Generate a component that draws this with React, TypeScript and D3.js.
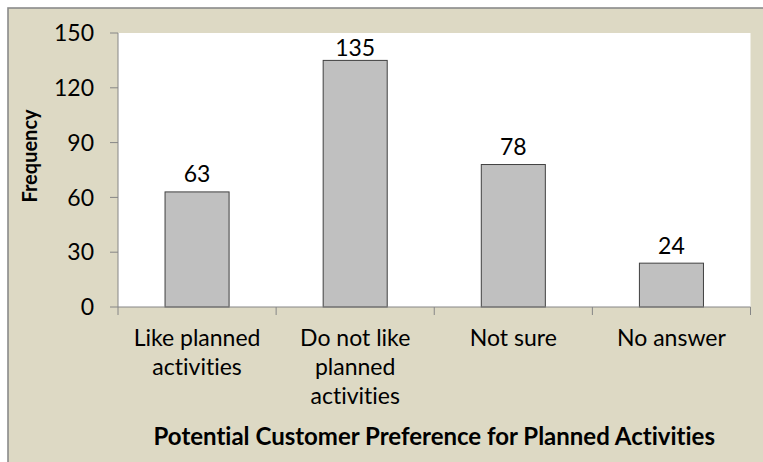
import React from "react";
import * as d3 from "d3";

const categories: string[][] = [
  ["Like planned", "activities"],
  ["Do not like", "planned", "activities"],
  ["Not sure"],
  ["No answer"],
];
const values: number[] = [63, 135, 78, 24];
const yTicks: number[] = [0, 30, 60, 90, 120, 150];
const yLabel = "Frequency";
const xLabel = "Potential Customer Preference for Planned Activities";

const W = 763;
const H = 462;
const FONT = "Lato, 'Open Sans', sans-serif";

export default function App() {
  const plot = { left: 118, right: 750.5, top: 33, bottom: 307 };
  const x = d3
    .scaleBand<number>()
    .domain(values.map((_, i) => i))
    .range([plot.left, plot.right])
    .paddingInner(0.595)
    .paddingOuter(0.2975);
  const y = d3.scaleLinear().domain([0, 150]).range([plot.bottom, plot.top]);
  const step = (plot.right - plot.left) / values.length;
  const axisColor = "#868686";

  return (
    <svg
      width={W}
      height={H}
      style={{ position: "fixed", top: 0, left: 0, fontVariantLigatures: "none", fontFeatureSettings: "'liga' 0, 'clig' 0" }}
      fontFamily={FONT}
    >
      <rect x={0} y={0} width={W} height={H} fill="#ffffff" />
      <rect x={8} y={8} width={W + 20} height={H + 20} fill="#DDD9C4" stroke="#8a8a8a" strokeWidth={1.6} />
      <rect x={plot.left} y={plot.top} width={plot.right - plot.left} height={plot.bottom - plot.top} fill="#ffffff" />

      {values.map((v, i) => (
        <rect
          key={i}
          x={x(i)!}
          y={y(v)}
          width={x.bandwidth()}
          height={y(0) - y(v)}
          fill="#C0C0C0"
          stroke="#404040"
          strokeWidth={1}
        />
      ))}

      {/* y axis */}
      <line x1={plot.left} x2={plot.left} y1={plot.top} y2={plot.bottom} stroke={axisColor} strokeWidth={1} />
      {yTicks.map((t) => (
        <g key={t}>
          <line x1={plot.left - 8} x2={plot.left} y1={y(t)} y2={y(t)} stroke={axisColor} strokeWidth={1} />
          <text x={94} y={y(t)} dy="0.36em" textAnchor="end" fontSize={23} fill="#000">
            {t}
          </text>
        </g>
      ))}

      {/* x axis */}
      <line x1={plot.left} x2={plot.right} y1={plot.bottom} y2={plot.bottom} stroke={axisColor} strokeWidth={1} />
      {d3.range(values.length + 1).map((k) => (
        <line
          key={k}
          x1={plot.left + k * step}
          x2={plot.left + k * step}
          y1={plot.bottom}
          y2={plot.bottom + 8}
          stroke={axisColor}
          strokeWidth={1}
        />
      ))}
      {categories.map((lines, i) => (
        <text key={i} x={x(i)! + x.bandwidth() / 2} y={346} textAnchor="middle" fontSize={23} fill="#000">
          {lines.map((l, j) => (
            <tspan key={j} x={x(i)! + x.bandwidth() / 2} dy={j === 0 ? 0 : 29}>
              {l}
            </tspan>
          ))}
        </text>
      ))}

      {/* data labels */}
      {values.map((v, i) => (
        <text
          key={i}
          x={x(i)! + x.bandwidth() / 2}
          y={Math.max(y(v) - 9.5, 56)}
          textAnchor="middle"
          fontSize={23}
          fill="#000"
        >
          {v}
        </text>
      ))}

      {/* axis titles */}
      <text
        transform={`translate(37, 156) rotate(-90)`}
        textAnchor="middle"
        fontSize={20}
        fontWeight="bold"
        fill="#000"
      >
        {yLabel}
      </text>
      <text x={(plot.left + plot.right) / 2} y={445} textAnchor="middle" fontSize={24} fontWeight="bold" fill="#000">
        {xLabel}
      </text>
    </svg>
  );
}
